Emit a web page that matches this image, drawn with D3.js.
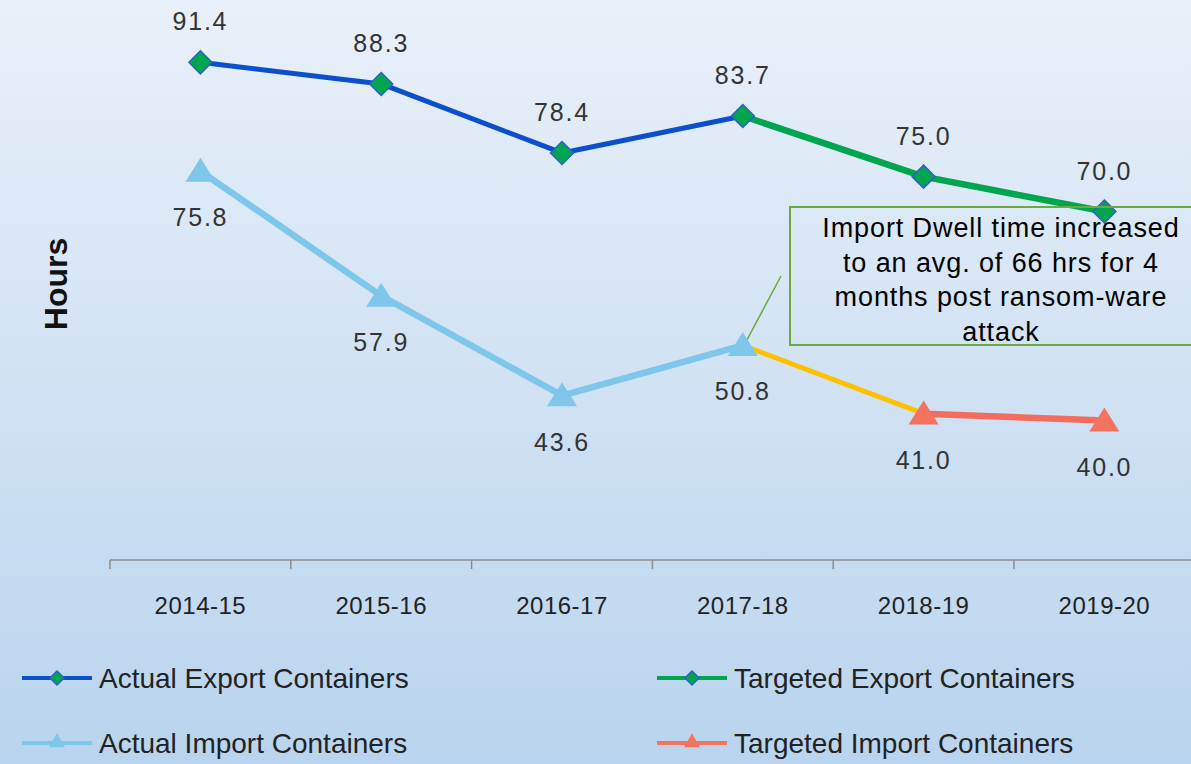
<!DOCTYPE html>
<html><head><meta charset="utf-8">
<script src="https://cdn.jsdelivr.net/npm/d3@7"></script>
<style>html,body{margin:0;padding:0;overflow:hidden}svg{display:block}</style>
</head><body>
<svg id="chart" width="1191" height="764"></svg>
<script>
const categories = ["2014-15","2015-16","2016-17","2017-18","2018-19","2019-20"];
const actualExport   = [91.4, 88.3, 78.4, 83.7, null, null];
const targetedExport = [null, null, null, 83.7, 75.0, 70.0];
const actualImport   = [75.8, 57.9, 43.6, 50.8, null, null];
const targetedImport = [null, null, null, null, 41.0, 40.0];
const exportLabels = [91.4, 88.3, 78.4, 83.7, 75.0, 70.0];
const importLabels = [75.8, 57.9, 43.6, 50.8, 41.0, 40.0];
const legendNames = ["Actual Export Containers","Targeted Export Containers","Actual Import Containers","Targeted Import Containers"];
const annotationLines = ["Import Dwell time increased","to an avg. of 66 hrs for 4","months post ransom-ware","attack"];
const yAxisTitle = "Hours";

const W = 1191, H = 764;
const svg = d3.select("#chart");
const defs = svg.append("defs");
const grad = defs.append("linearGradient").attr("id","bg").attr("x1",0).attr("y1",0).attr("x2",0).attr("y2",1);
grad.append("stop").attr("offset","0%").attr("stop-color","#e9f0f9");
grad.append("stop").attr("offset","100%").attr("stop-color","#b9d4ee");
svg.append("rect").attr("width",W).attr("height",H).attr("fill","url(#bg)");

const x = d3.scaleBand().domain(categories).range([110, 110 + 6*180.8]).padding(0);
const y = d3.scaleLinear().domain([20, 100]).range([560, 2.4]);
const cx = c => x(c) + x.bandwidth()/2;
const font = "Liberation Sans, Arial, sans-serif";

// axis
const axisG = svg.append("g").attr("transform","translate(0,560)");
axisG.call(d3.axisBottom(x).tickSize(0).tickFormat(""));
axisG.select(".domain").attr("stroke","#8c8c8c").attr("stroke-width",1.5).attr("d",`M110,0H${W+5}`);
axisG.selectAll(".tick").remove();
axisG.selectAll("line.bt").data(categories).enter().append("line").attr("class","bt")
  .attr("x1",d=>x(d)).attr("x2",d=>x(d)).attr("y1",0).attr("y2",9)
  .attr("stroke","#8c8c8c").attr("stroke-width",1.5);
axisG.selectAll("text.tl").data(categories).enter().append("text").attr("class","tl")
  .attr("x",d=>cx(d)).attr("y",54).attr("text-anchor","middle")
  .attr("font-family",font).attr("font-size",24).attr("letter-spacing",0.5)
  .attr("fill","#222").text(d=>d);

// y title
svg.append("text").attr("transform","translate(67,284) rotate(-90)").attr("text-anchor","middle")
  .attr("font-family",font).attr("font-weight","bold").attr("font-size",32)
  .attr("fill","#111").text(yAxisTitle);

const pts = arr => categories.map((c,i)=>({c, v:arr[i]})).filter(d=>d.v!=null);
const line = d3.line().x(d=>cx(d.c)).y(d=>y(d.v));

function seg(data, color, w){
  svg.append("path").datum(data).attr("d",line).attr("fill","none").attr("stroke",color)
    .attr("stroke-width",w).attr("stroke-linejoin","round");
}
seg(pts(actualExport), "#0c4fcc", 5);
seg(pts(targetedExport), "#00a64f", 6.5);
seg(pts(actualImport), "#7ec6ea", 6.5);
seg([{c:categories[3],v:actualImport[3]},{c:categories[4],v:targetedImport[4]}], "#ffc000", 5);
seg(pts(targetedImport), "#f26d5f", 6.5);

// annotation leader line
svg.append("line").attr("x1",781).attr("y1",276).attr("x2",740).attr("y2",353)
  .attr("stroke","#6aab3f").attr("stroke-width",1.5);

function diamond(g, px, py, r, fill, stroke){
  g.append("path").attr("d",`M${px},${py-r}L${px+r},${py}L${px},${py+r}L${px-r},${py}Z`)
    .attr("fill",fill).attr("stroke",stroke).attr("stroke-width",1.5);
}
function triangle(g, px, py, w, h, fill){
  g.append("path").attr("d",`M${px},${py-h*0.55}L${px+w/2},${py+h*0.45}L${px-w/2},${py+h*0.45}Z`).attr("fill",fill);
}
const mk = svg.append("g");
pts(actualImport).forEach(d=>triangle(mk, cx(d.c), y(d.v), 30, 24, "#7ec6ea"));
pts(targetedImport).forEach(d=>triangle(mk, cx(d.c), y(d.v), 30, 24, "#f3735f"));
pts(actualExport).concat(pts(targetedExport).slice(1)).forEach(d=>diamond(mk, cx(d.c), y(d.v), 11.5, "#00a64f", "#2a62c4"));

// data labels
svg.selectAll("text.el").data(exportLabels).enter().append("text").attr("class","el")
  .attr("x",(d,i)=>cx(categories[i])).attr("y",(d,i)=>y(d)-32).attr("text-anchor","middle")
  .attr("font-family",font).attr("font-size",25).attr("letter-spacing",1.8).attr("fill","#333")
  .text(d=>d.toFixed(1));
svg.selectAll("text.il").data(importLabels).enter().append("text").attr("class","il")
  .attr("x",(d,i)=>cx(categories[i])).attr("y",(d,i)=>y(d)+55).attr("text-anchor","middle")
  .attr("font-family",font).attr("font-size",25).attr("letter-spacing",1.8).attr("fill","#333")
  .text(d=>d.toFixed(1));

// annotation box
svg.append("rect").attr("x",790).attr("y",207).attr("width",420).attr("height",138)
  .attr("fill","none").attr("stroke","#6aab3f").attr("stroke-width",2);
svg.selectAll("text.an").data(annotationLines).enter().append("text").attr("class","an")
  .attr("x",1001).attr("y",(d,i)=>237+i*34.5).attr("text-anchor","middle")
  .attr("font-family",font).attr("font-size",27).attr("letter-spacing",0.9).attr("fill","#000").text(d=>d);

// legend
const legendItems = [
  {name:legendNames[0], x:22, y:678, color:"#0c4fcc", m:"d", mf:"#00a64f"},
  {name:legendNames[1], x:657, y:678, color:"#00a64f", m:"d", mf:"#00a64f"},
  {name:legendNames[2], x:22, y:743, color:"#7ec6ea", m:"t", mf:"#7ec6ea"},
  {name:legendNames[3], x:657, y:743, color:"#f3735f", m:"t", mf:"#f3735f"}
];
const lg = svg.append("g");
legendItems.forEach(it=>{
  lg.append("line").attr("x1",it.x).attr("x2",it.x+70).attr("y1",it.y).attr("y2",it.y)
    .attr("stroke",it.color).attr("stroke-width",4);
  if(it.m==="d") diamond(lg, it.x+35, it.y, 7, it.mf, "#2a62c4");
  else triangle(lg, it.x+35, it.y-2, 16, 14, it.mf);
  lg.append("text").attr("x",it.x+77).attr("y",it.y+10).attr("font-family",font)
    .attr("font-size",28).attr("fill","#222").text(it.name);
});
</script>
</body></html>
